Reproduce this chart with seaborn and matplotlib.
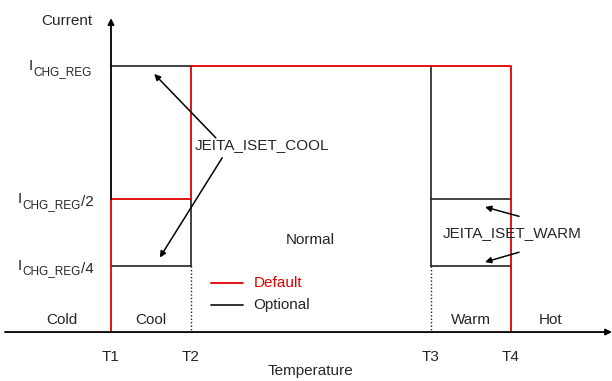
import matplotlib
matplotlib.use("Agg")
import matplotlib.pyplot as plt
import pandas as pd
import seaborn as sns

# temperature thresholds and current levels (relative to ICHG_REG)
temp_names = ["T1", "T2", "T3", "T4"]
temps = [1.0, 2.0, 5.0, 6.0]
levels = [1.0, 0.5, 0.25]
level_suffix = ["", "/2", "/4"]
zones = ["Cold", "Cool", "Normal", "Warm", "Hot"]

# default (red) current profile
default_x = [temps[0], temps[0], temps[1], temps[1], temps[3], temps[3]]
default_y = [0, levels[1], levels[1], levels[0], levels[0], 0]

# optional (black) segments
optional_segs = [
    ([temps[0], temps[1]], [levels[0], levels[0]]),
    ([temps[1], temps[1]], [levels[1], levels[2]]),
    ([temps[0], temps[1]], [levels[2], levels[2]]),
    ([temps[2], temps[2]], [levels[0], levels[2]]),
    ([temps[2], temps[3]], [levels[1], levels[1]]),
    ([temps[2], temps[3]], [levels[2], levels[2]]),
]
dotted_segs = [
    ([temps[1], temps[1]], [levels[2], 0]),
    ([temps[2], temps[2]], [levels[2], 0]),
]

sns.set_style("white")
plt.rcParams["font.family"] = ["Liberation Sans", "DejaVu Sans"]
plt.rcParams["font.size"] = 11

fig = plt.figure(figsize=(6.12, 3.81), dpi=100)
ax = fig.add_axes([0, 0, 1, 1])
ax.set_xlim(-0.3875, 7.2625)
ax.set_ylim(-0.184, 1.248)
ax.axis("off")

red = "#e00000"
dark = "#222222"
fs = 11

# axes with arrows
ax.annotate("", xy=(7.2625, 0), xytext=(-0.325, 0),
            arrowprops=dict(arrowstyle="-|>", color="black", lw=1.3, mutation_scale=9,
                            shrinkA=0, shrinkB=0))
ax.annotate("", xy=(temps[0], 1.18), xytext=(temps[0], levels[1]),
            arrowprops=dict(arrowstyle="-|>", color="black", lw=1.3, mutation_scale=9,
                            shrinkA=0, shrinkB=0))

for sx, sy in optional_segs:
    sns.lineplot(x=sx, y=sy, sort=False, estimator=None, color=dark, lw=1.2, ax=ax)
for sx, sy in dotted_segs:
    sns.lineplot(x=sx, y=sy, sort=False, estimator=None, color=dark, lw=1.0,
                 linestyle=(0, (1, 1.5)), ax=ax)

df = pd.DataFrame({"x": default_x, "y": default_y})
sns.lineplot(data=df, x="x", y="y", sort=False, estimator=None, color=red, lw=1.3, ax=ax)

# y labels
ax.text(0.77, 1.17, "Current", ha="right", va="center", fontsize=fs)
label_left = [-0.025, -0.1625, -0.1625]
for lv, suf, lx in zip(levels, level_suffix, label_left):
    t1 = ax.text(lx, lv - 0.016, "I", ha="left", va="baseline", fontsize=fs)
    t2 = ax.annotate("CHG_REG", xy=(1, 0), xycoords=t1, xytext=(0.3, -1.2),
                     textcoords="offset points", fontsize=8.5, va="baseline", ha="left")
    if suf:
        ax.annotate(suf, xy=(1, 0), xycoords=(t2, t1), xytext=(0, 0),
                    textcoords="offset points", fontsize=fs, va="baseline", ha="left")

# x labels
for t, name in zip(temps, temp_names):
    ax.text(t, -0.095, name, ha="center", va="center", fontsize=fs)
ax.text(3.49, -0.145, "Temperature", ha="center", va="center", fontsize=fs)

zone_x = [0.39, 1.5, 3.49, 5.5, 6.5]
zone_y = [0.045, 0.045, 0.345, 0.045, 0.045]
for zx, zy, zn in zip(zone_x, zone_y, zones):
    ax.text(zx, zy, zn, ha="center", va="center", fontsize=fs)

# legend
ax.plot([2.25, 2.65], [0.184, 0.184], color=red, lw=1.3)
ax.text(2.79, 0.184, "Default", color=red, ha="left", va="center", fontsize=fs)
ax.plot([2.25, 2.65], [0.102, 0.102], color=dark, lw=1.3)
ax.text(2.78, 0.102, "Optional", ha="left", va="center", fontsize=fs)

# annotations
arrow = dict(arrowstyle="-|>", color="black", lw=1.1, mutation_scale=9, shrinkA=0, shrinkB=0)
ax.text(2.89, 0.703, "JEITA_ISET_COOL", ha="center", va="center", fontsize=fs)
ax.annotate("", xy=(1.54, 0.97), xytext=(2.31, 0.73), arrowprops=arrow)
ax.annotate("", xy=(1.61, 0.28), xytext=(2.39, 0.655), arrowprops=arrow)
ax.text(6.02, 0.372, "JEITA_ISET_WARM", ha="center", va="center", fontsize=fs)
ax.annotate("", xy=(5.675, 0.47), xytext=(6.1, 0.435), arrowprops=arrow)
ax.annotate("", xy=(5.675, 0.263), xytext=(6.1, 0.30), arrowprops=arrow)

fig.savefig("out.png", dpi=100)
